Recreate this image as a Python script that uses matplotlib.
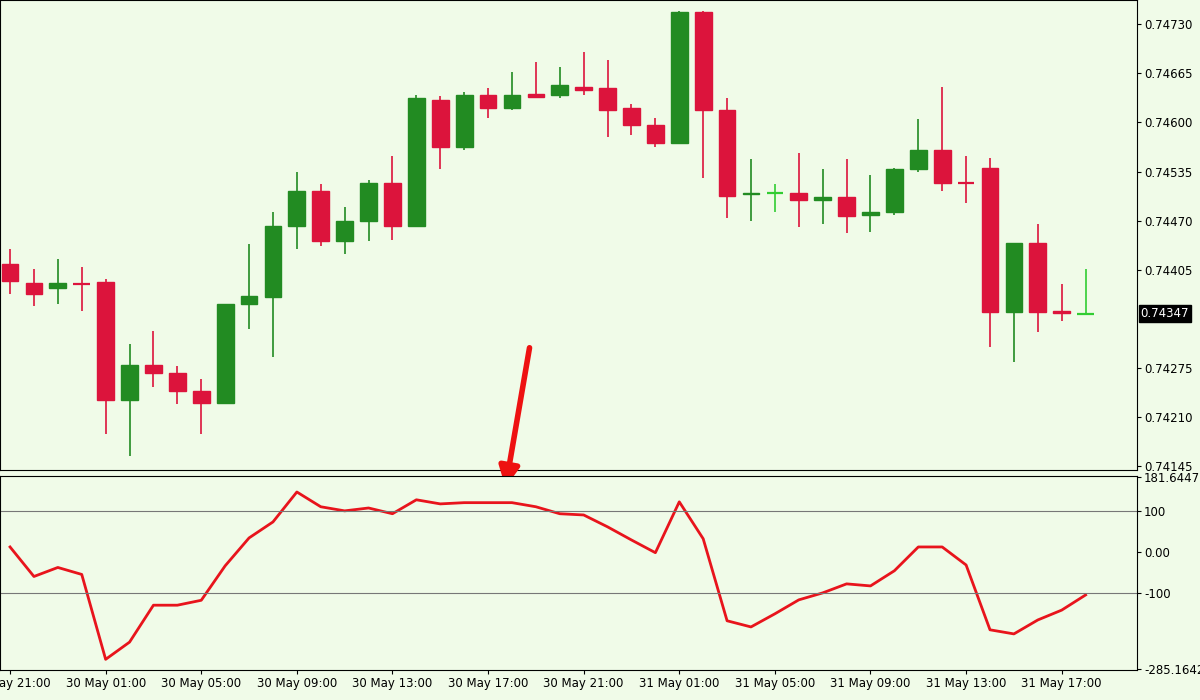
import matplotlib
matplotlib.use("Agg")
import matplotlib.pyplot as plt
import numpy as np

opens = [0.74412,0.74387,0.74381,0.74387,0.74389,0.74233,0.74279,0.74269,0.74244,0.74229,
         0.74360,0.74369,0.74463,0.74509,0.74443,0.74469,0.74520,0.74463,0.74630,0.74568,
         0.74636,0.74619,0.74638,0.74636,0.74647,0.74646,0.74619,0.74597,0.74573,0.74746,
         0.74617,0.74505,0.74507,0.74507,0.74497,0.74501,0.74477,0.74482,0.74538,0.74564,
         0.74520,0.74540,0.74349,0.74441,0.74351,0.74347]
closes = [0.74390,0.74373,0.74387,0.74386,0.74233,0.74279,0.74269,0.74244,0.74229,0.74360,
          0.74370,0.74463,0.74509,0.74443,0.74469,0.74520,0.74463,0.74632,0.74568,0.74636,
          0.74619,0.74636,0.74634,0.74650,0.74643,0.74617,0.74597,0.74573,0.74746,0.74617,
          0.74503,0.74507,0.74507,0.74497,0.74501,0.74476,0.74482,0.74538,0.74564,0.74520,
          0.74519,0.74349,0.74441,0.74349,0.74348,0.74347]
highs = [0.74432,0.74406,0.74419,0.74409,0.74393,0.74307,0.74324,0.74277,0.74261,0.74360,
         0.74439,0.74481,0.74535,0.74518,0.74488,0.74524,0.74555,0.74636,0.74635,0.74640,
         0.74646,0.74667,0.74680,0.74673,0.74693,0.74683,0.74625,0.74606,0.74748,0.74748,
         0.74632,0.74551,0.74518,0.74560,0.74538,0.74551,0.74531,0.74540,0.74604,0.74647,
         0.74555,0.74553,0.74441,0.74466,0.74386,0.74406]
lows = [0.74373,0.74357,0.74360,0.74351,0.74188,0.74158,0.74250,0.74228,0.74188,0.74229,
        0.74327,0.74290,0.74432,0.74436,0.74426,0.74443,0.74445,0.74461,0.74538,0.74564,
        0.74606,0.74617,0.74632,0.74632,0.74636,0.74581,0.74584,0.74568,0.74573,0.74527,
        0.74474,0.74469,0.74482,0.74461,0.74466,0.74453,0.74455,0.74478,0.74535,0.74509,
        0.74493,0.74303,0.74283,0.74323,0.74337,0.74345]
cci = [12,-60,-38,-55,-262,-220,-130,-130,-118,-34,34,73,146,110,100,107,93,127,117,120,
       120,120,110,93,90,61,29,-2,122,32,-168,-183,-151,-117,-100,-78,-83,-46,12,12,
       -32,-190,-200,-166,-142,-105]
price_ticks = [0.74145,0.74210,0.74275,0.74405,0.74470,0.74535,0.74600,0.74665,0.74730]
time_labels = ["29 May 21:00","30 May 01:00","30 May 05:00","30 May 09:00","30 May 13:00",
               "30 May 17:00","30 May 21:00","31 May 01:00","31 May 05:00","31 May 09:00",
               "31 May 13:00","31 May 17:00"]
cci_ticks = [181.6447,100,0,-100,-285.1642]
cci_tick_labels = ["181.6447","100","0.00","-100","-285.1642"]

bg = "#f0fbe8"
RED, GREEN, LIME = "#dc143c", "#228b22", "#32cd32"
fig = plt.figure(figsize=(12,7), dpi=100, facecolor=bg)
ax = fig.add_axes([0, 1-470/700, 1137/1200, 470/700], facecolor=bg)
ax2 = fig.add_axes([0, 1-670/700, 1137/1200, 194/700], facecolor=bg)
n = len(opens)
x = np.arange(n)
for i in range(n):
    o, c, h, l = opens[i], closes[i], highs[i], lows[i]
    col = LIME if o == c else (GREEN if c > o else RED)
    ax.vlines(i, l, h, color=col, lw=1.2)
    lo, hi = min(o, c), max(o, c)
    if hi - lo < 0.000015:
        ax.hlines((o+c)/2, i-0.35, i+0.35, color=col, lw=1.6)
    else:
        ax.bar(i, hi-lo, bottom=lo, width=0.7, color=col, edgecolor=col)
xl = (-0.42, 47.15)
ax.set_xlim(*xl); ax.set_ylim(0.74140, 0.74762)
ax.yaxis.tick_right()
ax.set_yticks(price_ticks); ax.set_yticklabels([f"{p:.5f}" for p in price_ticks], fontsize=8.5)
ax.set_xticks([])
ax.text(1.003, 0.74347, "0.74347", transform=ax.get_yaxis_transform(), fontsize=8.5, color="white",
        va="center", ha="left", bbox=dict(boxstyle="square,pad=0.15", fc="black", ec="black"))
for a in (ax, ax2):
    for s in a.spines.values():
        s.set_color("black"); s.set_linewidth(0.8)
    a.tick_params(colors="black", length=3, pad=2)

ax2.plot(x, cci, color="#e8141c", lw=2)
for v in (100, -100):
    ax2.axhline(v, color="#777777", lw=0.8)
ax2.set_xlim(*xl); ax2.set_ylim(-288, 185)
ax2.yaxis.tick_right()
ax2.set_yticks(cci_ticks); ax2.set_yticklabels(cci_tick_labels, fontsize=8.5)
ax2.set_xticks(np.arange(0, n, 4)); ax2.set_xticklabels(time_labels, fontsize=8.5)

ax.annotate("", xy=(505/1200, 1-490/700), xytext=(530/1200, 1-345/700), xycoords="figure fraction",
            textcoords="figure fraction",
            arrowprops=dict(arrowstyle="-|>,head_width=0.6,head_length=1.2", color="#ee1111", lw=4))
fig.savefig("out.png", dpi=100, facecolor=bg)
